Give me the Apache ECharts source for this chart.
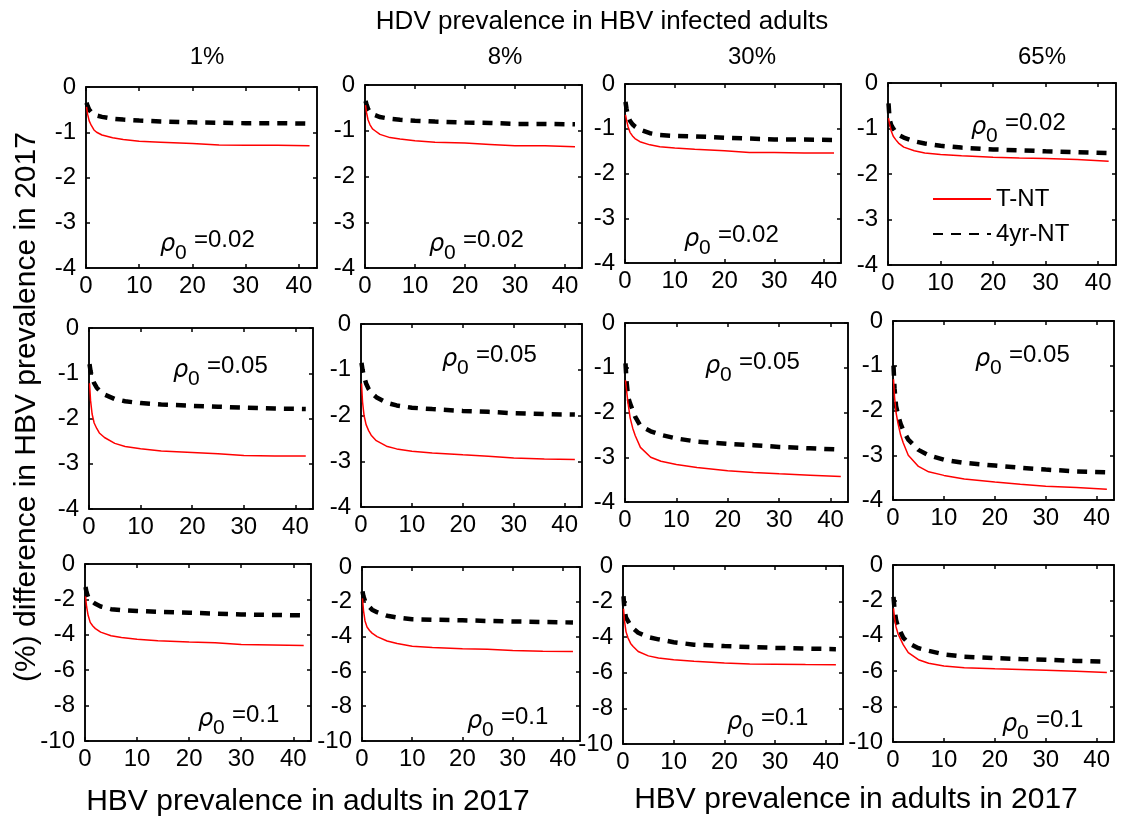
<!DOCTYPE html>
<html>
<head>
<meta charset="utf-8">
<script src="https://cdn.jsdelivr.net/npm/echarts@6/dist/echarts.min.js"></script>
<style>html,body{margin:0;padding:0;background:#fff}#c{width:1130px;height:824px}</style>
</head>
<body>
<div id="c"></div>
<script>
// ---------- data ----------
const columns = ['1%', '8%', '30%', '65%'];
const rhoLabels = ['0.02', '0.05', '0.1'];
const xTicks = [0, 10, 20, 30, 40];
const xValues = [0.1, 0.3, 0.6, 1, 1.5, 2, 3, 5, 7, 10, 14, 20, 25, 30, 36, 42];

// rho0 = 0.02 (row 1), columns 1%, 8%, 30%, 65%
const tnt_002_1 = [-0.44,-0.6,-0.75,-0.85,-0.95,-1.0,-1.06,-1.12,-1.16,-1.2,-1.22,-1.25,-1.28,-1.29,-1.29,-1.3];
const nt4_002_1 = [-0.35,-0.42,-0.5,-0.56,-0.6,-0.63,-0.66,-0.7,-0.72,-0.74,-0.76,-0.78,-0.79,-0.8,-0.8,-0.81];
const tnt_002_8 = [-0.44,-0.6,-0.76,-0.87,-0.96,-1.0,-1.08,-1.15,-1.18,-1.22,-1.25,-1.27,-1.3,-1.33,-1.33,-1.35];
const nt4_002_8 = [-0.35,-0.42,-0.52,-0.59,-0.63,-0.66,-0.7,-0.74,-0.76,-0.78,-0.8,-0.82,-0.83,-0.85,-0.85,-0.86];
const tnt_002_30 = [-0.69,-0.8,-0.95,-1.08,-1.16,-1.22,-1.29,-1.36,-1.4,-1.43,-1.46,-1.49,-1.53,-1.53,-1.54,-1.54];
const nt4_002_30 = [-0.4,-0.55,-0.72,-0.82,-0.9,-0.95,-1.02,-1.1,-1.14,-1.16,-1.17,-1.2,-1.22,-1.24,-1.24,-1.25];
const tnt_002_65 = [-0.77,-0.9,-1.05,-1.17,-1.25,-1.32,-1.41,-1.49,-1.54,-1.57,-1.6,-1.63,-1.65,-1.66,-1.68,-1.72];
const nt4_002_65 = [-0.45,-0.8,-0.92,-1.0,-1.08,-1.14,-1.2,-1.28,-1.33,-1.38,-1.42,-1.46,-1.48,-1.5,-1.52,-1.54];

// rho0 = 0.05 (row 2)
const tnt_005_1 = [-1.22,-1.6,-1.9,-2.1,-2.22,-2.32,-2.42,-2.55,-2.62,-2.67,-2.72,-2.75,-2.78,-2.82,-2.83,-2.83];
const nt4_005_1 = [-0.8,-0.95,-1.1,-1.22,-1.32,-1.38,-1.47,-1.57,-1.62,-1.66,-1.69,-1.72,-1.74,-1.76,-1.78,-1.79];
const tnt_005_8 = [-1.3,-1.7,-2.0,-2.2,-2.33,-2.43,-2.55,-2.67,-2.73,-2.78,-2.82,-2.86,-2.89,-2.93,-2.95,-2.96];
const nt4_005_8 = [-0.85,-1.0,-1.15,-1.3,-1.42,-1.5,-1.6,-1.72,-1.78,-1.83,-1.86,-1.9,-1.92,-1.95,-1.97,-1.98];
const tnt_005_30 = [-1.28,-1.5,-1.8,-2.12,-2.35,-2.52,-2.78,-3.0,-3.09,-3.16,-3.23,-3.3,-3.34,-3.37,-3.4,-3.43];
const nt4_005_30 = [-0.9,-1.3,-1.65,-1.8,-1.95,-2.1,-2.3,-2.42,-2.5,-2.58,-2.65,-2.7,-2.73,-2.77,-2.8,-2.83];
const tnt_005_65 = [-1.3,-1.7,-2.05,-2.3,-2.55,-2.72,-3.0,-3.25,-3.37,-3.45,-3.53,-3.6,-3.65,-3.69,-3.72,-3.76];
const nt4_005_65 = [-1.0,-1.5,-1.9,-2.1,-2.3,-2.44,-2.65,-2.88,-3.0,-3.1,-3.17,-3.23,-3.28,-3.32,-3.36,-3.38];

// rho0 = 0.1 (row 3)
const tnt_01_1 = [-1.83,-2.4,-2.9,-3.3,-3.5,-3.65,-3.85,-4.05,-4.15,-4.25,-4.33,-4.4,-4.45,-4.55,-4.57,-4.6];
const nt4_01_1 = [-1.3,-1.6,-1.85,-2.0,-2.15,-2.25,-2.4,-2.55,-2.6,-2.65,-2.7,-2.75,-2.8,-2.85,-2.88,-2.9];
const tnt_01_8 = [-1.8,-2.5,-3.1,-3.45,-3.65,-3.8,-4.0,-4.25,-4.4,-4.55,-4.62,-4.7,-4.72,-4.8,-4.84,-4.86];
const nt4_01_8 = [-1.4,-1.7,-1.95,-2.1,-2.3,-2.45,-2.6,-2.8,-2.9,-3.0,-3.03,-3.06,-3.1,-3.13,-3.16,-3.19];
const tnt_01_30 = [-2.4,-3.1,-3.7,-4.05,-4.35,-4.52,-4.8,-5.05,-5.17,-5.27,-5.35,-5.45,-5.5,-5.52,-5.54,-5.55];
const nt4_01_30 = [-1.7,-2.5,-2.9,-3.1,-3.35,-3.5,-3.75,-4.0,-4.12,-4.28,-4.42,-4.5,-4.55,-4.6,-4.64,-4.67];
const tnt_01_65 = [-2.45,-3.0,-3.5,-3.9,-4.2,-4.5,-4.95,-5.35,-5.55,-5.7,-5.8,-5.86,-5.9,-5.94,-6.0,-6.07];
const nt4_01_65 = [-1.8,-2.5,-3.1,-3.5,-3.8,-4.1,-4.4,-4.7,-4.85,-5.05,-5.18,-5.26,-5.31,-5.35,-5.42,-5.46];

const tntRows = [[tnt_002_1, tnt_002_8, tnt_002_30, tnt_002_65],
                 [tnt_005_1, tnt_005_8, tnt_005_30, tnt_005_65],
                 [tnt_01_1, tnt_01_8, tnt_01_30, tnt_01_65]];
const nt4Rows = [[nt4_002_1, nt4_002_8, nt4_002_30, nt4_002_65],
                 [nt4_005_1, nt4_005_8, nt4_005_30, nt4_005_65],
                 [nt4_01_1, nt4_01_8, nt4_01_30, nt4_01_65]];
const yRanges = [[-4, 0, 1], [-4, 0, 1], [-10, 0, 2]];

// ---------- layout (pixels) : [left, right, top, bottom] ----------
const boxes = [
  [[86,317,87,268],[365,582,85,268],[625,841,84,263],[888,1116,83,265]],
  [[89,313,328,509],[361,582,324,507],[625,848,323,502],[893,1114,321,500]],
  [[85,311,564,741],[362,580,567,741],[623,843,566,744],[893,1114,565,742]]
];
// annotation anchors: [x of rho, y centre of "=value"]
const annot = [
  [[160,240],[429,240],[684,235],[971,123]],
  [[173,366],[442,355],[705,362],[975,355]],
  [[198,715],[467,717],[727,718],[1002,720]]
];
const colTitleX = [207, 505, 752, 1042];

const FONT = 'Liberation Sans, Arial, sans-serif';
const grid = [], xAxis = [], yAxis = [], series = [], graphic = [];

function txt(x, y, s, size, extra) {
  return {
    type: 'text', x: x, y: y, silent: true,
    style: Object.assign({ text: s, fontSize: size, fontFamily: FONT, fill: '#000',
      textAlign: 'center', textVerticalAlign: 'middle', align: 'center', verticalAlign: 'middle' }, extra || {})
  };
}

let gi = 0;
for (let r = 0; r < 3; r++) {
  for (let c = 0; c < 4; c++) {
    const b = boxes[r][c];
    grid.push({ left: b[0], top: b[2], width: b[1] - b[0], height: b[3] - b[2],
      show: true, borderColor: '#000', borderWidth: 1.5, backgroundColor: '#fff' });
    const axLine = { show: true, onZero: false, lineStyle: { color: '#000', width: 1.5 } };
    const tick = { show: true, inside: true, length: 4, lineStyle: { color: '#000', width: 1.5 } };
    xAxis.push({ type: 'value', gridIndex: gi, min: 0, max: 43.4, position: 'bottom',
      axisLine: axLine, splitLine: { show: false },
      axisTick: Object.assign({ customValues: xTicks }, tick),
      axisLabel: { customValues: xTicks, fontSize: 24, fontFamily: FONT, color: '#000', margin: 6 } });
    xAxis.push({ type: 'value', gridIndex: gi, min: 0, max: 43.4, position: 'top',
      axisLine: axLine, splitLine: { show: false },
      axisTick: Object.assign({ customValues: xTicks }, tick), axisLabel: { show: false } });
    const yr = yRanges[r];
    yAxis.push({ type: 'value', gridIndex: gi, min: yr[0], max: yr[1], interval: yr[2], position: 'left',
      axisLine: axLine, splitLine: { show: false }, axisTick: tick,
      axisLabel: { fontSize: 24, fontFamily: FONT, color: '#000', margin: 10 } });
    yAxis.push({ type: 'value', gridIndex: gi, min: yr[0], max: yr[1], interval: yr[2], position: 'right',
      axisLine: axLine, splitLine: { show: false }, axisTick: tick, axisLabel: { show: false } });

    series.push({ name: '4yr-NT', type: 'line', xAxisIndex: 2 * gi, yAxisIndex: 2 * gi,
      data: xValues.map((x, j) => [x, nt4Rows[r][c][j]]), symbol: 'none', showSymbol: false, silent: true,
      lineStyle: { color: '#000', width: 4.5, type: [10, 8], cap: 'butt' }, itemStyle: { color: '#000' } });
    series.push({ name: 'T-NT', type: 'line', xAxisIndex: 2 * gi, yAxisIndex: 2 * gi,
      data: xValues.map((x, j) => [x, tntRows[r][c][j]]), symbol: 'none', showSymbol: false, silent: true,
      lineStyle: { color: '#ff0000', width: 1.5 }, itemStyle: { color: '#ff0000' } });

    const a = annot[r][c];
    graphic.push(txt(a[0], a[1] + 5, 'ρ', 24, { textAlign: 'left', align: 'left', fontStyle: 'italic', fontFamily: 'DejaVu Sans, sans-serif' }));
    graphic.push(txt(a[0] + 15, a[1] + 13, '0', 21, { textAlign: 'left', align: 'left' }));
    graphic.push(txt(a[0] + 34, a[1], '=' + rhoLabels[r], 24, { textAlign: 'left', align: 'left' }));
    gi++;
  }
}

graphic.push(txt(602, 22, 'HDV prevalence in HBV infected adults', 26));
for (let c = 0; c < 4; c++) graphic.push(txt(colTitleX[c], 57, columns[c], 24));
graphic.push(txt(308, 802, 'HBV prevalence in adults in 2017', 30));
graphic.push(txt(856, 800, 'HBV prevalence in adults in 2017', 30));
const yTitle = txt(27, 407, '(%) difference in HBV prevalence in 2017', 30);
yTitle.rotation = Math.PI / 2;
graphic.push(yTitle);

const chart = echarts.init(document.getElementById('c'), null, { renderer: 'canvas' });
chart.setOption({
  animation: false,
  backgroundColor: '#fff',
  grid: grid, xAxis: xAxis, yAxis: yAxis, series: series, graphic: graphic,
  legend: { data: ['T-NT', '4yr-NT'], orient: 'vertical', left: 927, top: 182,
    itemWidth: 58, itemHeight: 14, itemGap: 11, selectedMode: false,
    itemStyle: { color: 'rgba(0,0,0,0)', borderWidth: 0, opacity: 0 },
    textStyle: { fontSize: 24, fontFamily: FONT, color: '#000', lineHeight: 24 } }
});
</script>
</body>
</html>
